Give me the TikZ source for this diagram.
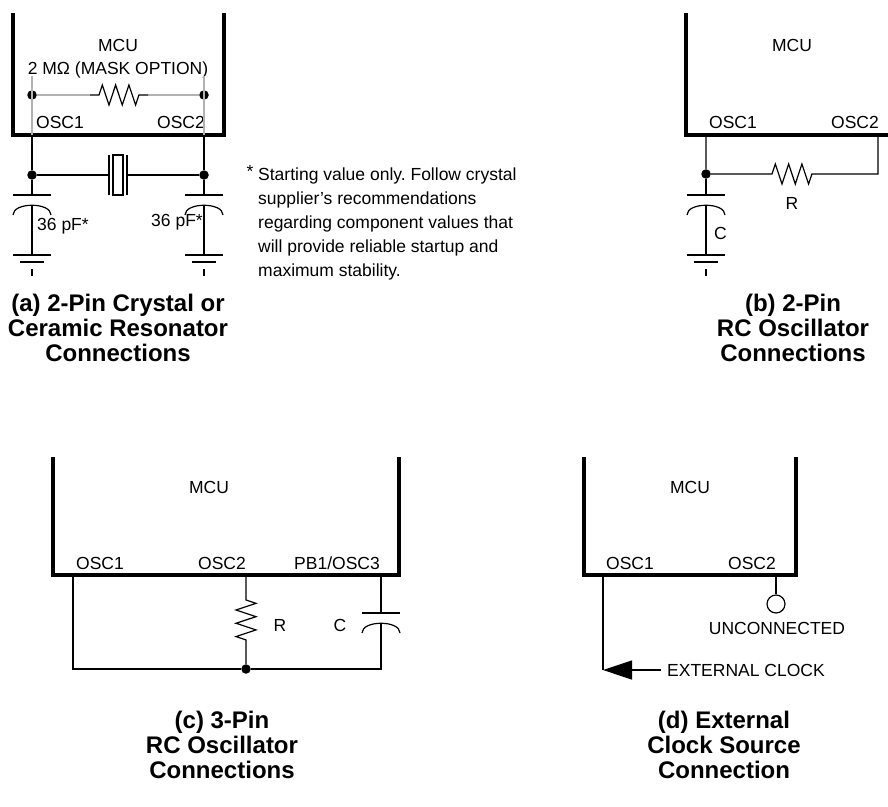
\documentclass[tikz,border=0pt]{standalone}
\usepackage{fontspec}
\setmainfont{Liberation Sans}
\usetikzlibrary{decorations.pathmorphing,arrows.meta}

\tikzset{
  mcu/.style={line width=4pt},
  wire/.style={line width=1.2pt},
  maskline/.style={line width=1.2pt,color=black!30},
  dot/.style={circle,fill,inner sep=0pt,minimum size=9.5pt},
  lbl/.style={font=\fontsize{17.5}{20}\selectfont,inner sep=0pt},
  capt/.style={font=\bfseries\fontsize{24}{25}\selectfont,align=center,inner sep=0pt},
  zig/.style={decorate,decoration={zigzag,segment length=13.3pt,amplitude=10pt}},
}
% capacitor with plate at #1
\newcommand{\capplate}[1]{
  \begin{scope}[shift={#1}]
    \draw[wire](-19,0)--(19,0);
    \draw[wire](-19,20) .. controls (-19,7) and (19,7) .. (19,20);
  \end{scope}}
% ground at #1
\newcommand{\gndmark}[1]{
  \begin{scope}[shift={#1}]
    \draw[wire](-19,0)--(19,0);
    \draw[wire](-12,7)--(12,7);
    \draw[wire](0,14)--(0,21);
  \end{scope}}

\begin{document}
\frenchspacing
\begin{tikzpicture}[x=1pt,y=-1pt]
    \useasboundingbox (0,0) rectangle (888,806);

    %(a) crystal
    \draw[mcu](13,13)--(13,135)--(224,135)--(224,13);
    \node[lbl] (amcu) at (118,45){MCU};
    \node[lbl] (amask) at (118,70){2 MΩ (MASK OPTION)};
    \node[lbl] (aosc1) at (60,122){OSC1};
    \node[lbl] (aosc2) at (181,122){OSC2};
    \coordinate (a1) at (32,135);
    \coordinate (a2) at (204,135);
    %mask option resistor
    \node[dot] (m1) at (32,95){};
    \node[dot] (m2) at (204,95){};
    \coordinate (r0) at (90,95);
    \coordinate (r1) at (148,95);
    \draw[maskline](32,76)--(a1);
    \draw[maskline](204,76)--(a2);
    \draw[maskline](m1)--(r0);
    \draw[maskline](r1)--(m2);
    \draw[wire](r0)--++(9,0) decorate[zig]{--++(40,0)}--(r1);
    %crystal between the pins
    \node[dot] (aj1) at (32,175){};
    \node[dot] (aj2) at (204,175){};
    \coordinate (xl) at (109,175);
    \coordinate (xr) at (127,175);
    \draw[wire](a1)--(aj1)--(xl);
    \draw[wire](a2)--(aj2)--(xr);
    \draw[wire](109,155)--(109,195);
    \draw[wire](127,155)--(127,195);
    \draw[wire](113,155) rectangle (123,195);
    %load capacitors
    \draw[wire](aj1)--(32,195);
    \draw[wire](aj2)--(204,195);
    \capplate{(32,195)}
    \capplate{(204,195)}
    \draw[wire](32,206)--(32,255);
    \draw[wire](204,206)--(204,255);
    \gndmark{(32,255)}
    \gndmark{(204,255)}
    \node[lbl,anchor=west] (acap1) at (37,226){36 pF*};
    \node[lbl,anchor=east] (acap2) at (203,222){36 pF*};
    %note
    \node[anchor=base,font=\fontsize{17.5}{24}\selectfont,inner sep=0pt] (star) at (250,177){*};
    \node[anchor=north west,align=left,font=\fontsize{17.5}{24}\selectfont,inner sep=0pt] (note) at (258,168)
      {Starting value only. Follow crystal\\supplier’s recommendations\\regarding component values that\\will provide reliable startup and\\maximum stability.};
    \node[capt] (capa) at (118,328){(a) 2-Pin Crystal or\\Ceramic Resonator\\Connections};

    %(b) 2-pin RC
    \draw[mcu](686,13)--(686,135)--(890,135);
    \node[lbl] (bmcu) at (792,45){MCU};
    \node[lbl] (bosc1) at (733,122){OSC1};
    \node[lbl] (bosc2) at (855,122){OSC2};
    \coordinate (b1) at (706,135);
    \coordinate (b2) at (878,135);
    \node[dot] (bj) at (706,174){};
    \coordinate (br) at (878,174);
    \draw[wire](b1)--(bj)--(772,174) decorate[zig]{--(812,174)}--(br)--(b2);
    \node[lbl] (bR) at (792,203){R};
    \draw[wire](bj)--(706,195);
    \capplate{(706,195)}
    \draw[wire](706,206)--(706,255);
    \gndmark{(706,255)}
    \node[lbl,anchor=west] (bC) at (714,233){C};
    \node[capt] (capb) at (793,328){(b) 2-Pin\\RC Oscillator\\Connections};

    %(c) 3-pin RC
    \draw[mcu](53,457)--(53,575)--(399,575)--(399,457);
    \node[lbl] (cmcu) at (209,487){MCU};
    \node[lbl] (cosc1) at (100,563){OSC1};
    \node[lbl] (cosc2) at (222,563){OSC2};
    \node[lbl] (cosc3) at (337,563){PB1/OSC3};
    \coordinate (c1) at (73,575);
    \coordinate (c2) at (246,575);
    \coordinate (c3) at (381,575);
    \coordinate (cl) at (73,669);
    \coordinate (cr) at (381,669);
    \node[dot] (cj) at (246,669){};
    \draw[wire](c1)--(cl)--(cj)--(cr)--(381,623);
    \draw[wire](c2)--(246,600) decorate[zig]{--(246,640)}--(cj);
    \draw[wire](c3)--(381,613);
    \capplate{(381,613)}
    \node[lbl] (cR) at (280,625){R};
    \node[lbl] (cC) at (340,625){C};
    \node[capt] (capc) at (222,745){(c) 3-Pin\\RC Oscillator\\Connections};

    %(d) external clock
    \draw[mcu](584,457)--(584,575)--(796,575)--(796,457);
    \node[lbl] (dmcu) at (690,487){MCU};
    \node[lbl] (dosc1) at (630,563){OSC1};
    \node[lbl] (dosc2) at (752,563){OSC2};
    \coordinate (d1) at (603,575);
    \coordinate (d2) at (776,575);
    \node[circle,draw,line width=1.2pt,minimum size=18pt,inner sep=0pt] (nc) at (776,604){};
    \draw[wire](d2)--(nc);
    \node[lbl] (unc) at (777,628){UNCONNECTED};
    \coordinate (tip) at (603,670);
    \node[lbl,anchor=west] (ext) at (667,670){EXTERNAL CLOCK};
    \draw[wire](d1)--(tip);
    \draw[wire,-{Triangle[length=29pt,width=19pt]}](ext.west)++(-6,0)--(tip);
    \node[capt] (capd) at (724,745){(d) External\\Clock Source\\Connection};
\end{tikzpicture}
\end{document}
